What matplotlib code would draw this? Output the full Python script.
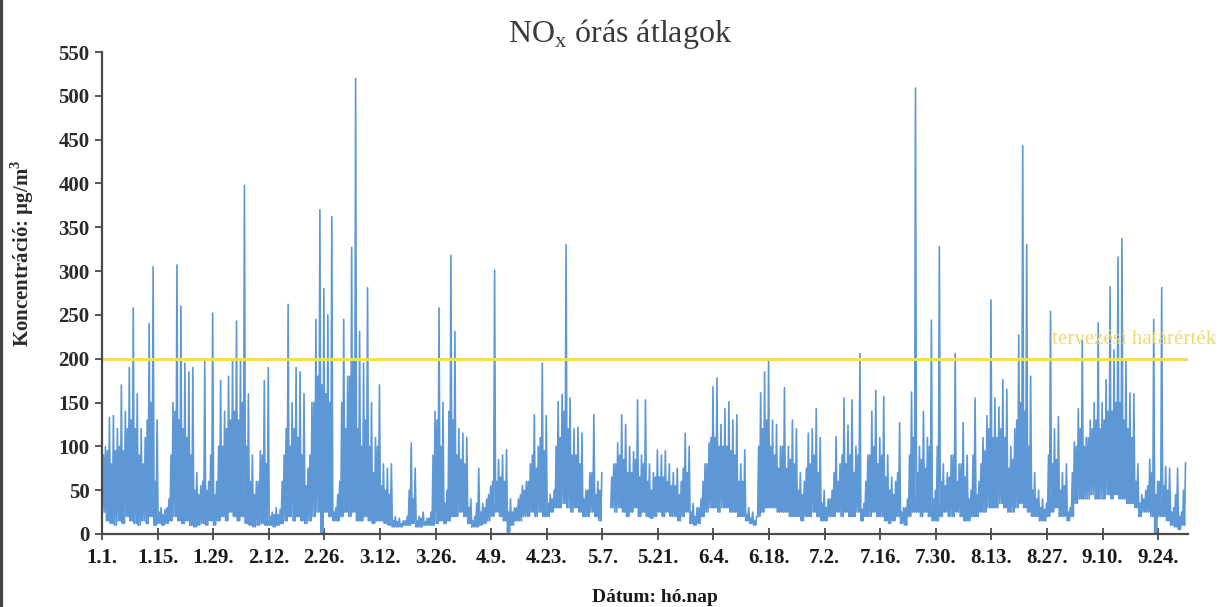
import numpy as np
import matplotlib.pyplot as plt
from matplotlib.lines import Line2D

plt.rcParams['font.family'] = ['Liberation Serif', 'DejaVu Serif']
plt.rcParams['mathtext.fontset'] = 'custom'
plt.rcParams['mathtext.rm'] = 'Liberation Serif'

# napi minimum / jellemzo csucs / maximum orás átlag (µg/m3), jan. 1. - szept. 30.
napi_max = [100, 133, 135, 120, 170, 140, 190, 258, 160, 120, 110, 240, 305, 130,
            30, 28, 40, 150, 307, 260, 195, 185, 190, 70, 55, 198, 60, 252,
            60, 175, 140, 180, 200, 243, 200, 398, 160, 90, 60, 95, 175, 190,
            25, 30, 28, 90, 262, 150, 190, 185, 160, 75, 150, 245, 370, 280,
            250, 362, 30, 60, 245, 180, 327, 520, 231, 195, 281, 150, 110, 170,
            80, 75, 80, 20, 18, 15, 20, 104, 75, 20, 25, 18, 25, 140,
            258, 150, 50, 318, 231, 120, 115, 110, 40, 20, 75, 35, 40, 55,
            301, 85, 90, 96, 40, 30, 40, 55, 60, 80, 136, 100, 195, 135,
            45, 50, 151, 159, 330, 155, 120, 122, 115, 50, 70, 136, 60, 70,
            np.nan, np.nan, 80, 104, 136, 125, 100, 94, 153, 90, 153, 80, 70, 96,
            90, 95, 80, 70, 75, 60, 115, 100, 35, 30, 40, 80, 104, 168,
            178, 125, 143, 151, 130, 136, 80, 96, 30, 25, 20, 161, 185, 197,
            130, 125, 100, 167, 100, 130, 120, 70, 60, 115, 120, 143, 110, 50,
            40, 50, 111, 80, 155, 124, 153, 100, 206, 35, 90, 140, 164, 110,
            157, 90, 65, 60, 127, 30, 40, 162, 509, 100, 140, 110, 244, 50,
            328, 80, 70, 90, 206, 80, 127, 90, 50, 155, 60, 110, 135, 267,
            155, 145, 176, 165, 100, 120, 227, 443, 330, 180, 70, 50, 40, 35,
            254, 120, 134, 70, 80, 30, 105, 143, 221, 110, 130, 150, 241, 150,
            176, 282, 210, 316, 337, 200, 161, 160, 80, 45, 50, 85, 245, 60,
            281, 77, 75, 30, 75, 25, 81]
napi_jell = [90, 95, 80, 95, 100, 95, 120, 130, 120, 90, 80, 130, 150, 60,
             25, 22, 30, 90, 140, 130, 120, 110, 90, 50, 45, 60, 50, 90,
             45, 100, 100, 120, 130, 140, 130, 150, 100, 60, 45, 60, 90, 80,
             20, 22, 22, 60, 120, 100, 120, 110, 90, 55, 90, 150, 180, 170,
             160, 150, 25, 45, 150, 120, 180, 200, 120, 100, 130, 100, 70, 100,
             55, 50, 45, 15, 14, 12, 15, 50, 40, 15, 18, 14, 18, 90,
             130, 100, 35, 140, 130, 90, 85, 80, 30, 15, 35, 25, 30, 45,
             60, 60, 65, 60, 25, 25, 30, 45, 50, 60, 90, 75, 110, 95,
             35, 40, 100, 110, 140, 120, 90, 90, 80, 40, 50, 70, 45, 50,
             np.nan, np.nan, 65, 80, 90, 85, 70, 70, 85, 65, 80, 60, 50, 65,
             65, 65, 60, 55, 55, 45, 75, 70, 25, 20, 30, 60, 80, 110,
             110, 100, 100, 100, 95, 90, 60, 60, 22, 18, 15, 100, 120, 130,
             100, 90, 75, 100, 75, 85, 80, 50, 45, 75, 80, 90, 70, 35,
             30, 40, 70, 60, 90, 80, 90, 70, 90, 28, 60, 90, 100, 80,
             90, 65, 50, 45, 70, 25, 30, 90, 110, 70, 85, 75, 100, 40,
             100, 60, 55, 65, 90, 60, 80, 65, 40, 90, 45, 80, 95, 120,
             110, 110, 120, 110, 75, 85, 130, 150, 140, 100, 50, 40, 30, 28,
             90, 80, 85, 50, 55, 25, 70, 100, 120, 100, 110, 120, 130, 120,
             130, 140, 140, 150, 150, 130, 120, 110, 60, 35, 40, 55, 70, 45,
             60, 55, 50, 25, 45, 20, 50]
napi_min = [25, 15, 12, 10, 15, 12, 20, 15, 12, 10, 15, 12, 20, 10,
            12, 10, 12, 15, 20, 15, 12, 15, 10, 8, 10, 12, 10, 15,
            10, 15, 20, 15, 25, 20, 15, 20, 12, 10, 8, 10, 12, 10,
            10, 8, 10, 12, 15, 20, 15, 20, 15, 12, 15, 20, 25, 2,
            25, 20, 15, 15, 20, 25, 20, 25, 15, 15, 20, 15, 12, 15,
            15, 12, 10, 8, 8, 8, 10, 10, 12, 8, 8, 10, 10, 10,
            12, 15, 12, 15, 20, 20, 25, 20, 12, 8, 8, 10, 12, 15,
            20, 25, 20, 15, 2, 10, 15, 15, 20, 20, 25, 20, 25, 20,
            20, 25, 30, 30, 35, 30, 25, 30, 25, 20, 20, 25, 20, 15,
            np.nan, np.nan, 30, 25, 30, 25, 20, 25, 30, 20, 25, 20, 18, 20,
            25, 20, 25, 20, 20, 15, 20, 25, 12, 10, 12, 20, 25, 30,
            30, 25, 30, 30, 25, 25, 20, 20, 15, 12, 10, 20, 25, 30,
            30, 30, 25, 25, 25, 20, 20, 20, 15, 20, 20, 25, 20, 15,
            15, 20, 20, 25, 20, 25, 20, 20, 25, 15, 20, 20, 25, 20,
            20, 15, 12, 15, 20, 12, 10, 20, 25, 25, 20, 25, 20, 15,
            15, 20, 25, 20, 20, 25, 20, 15, 15, 20, 20, 25, 25, 30,
            30, 30, 35, 30, 25, 25, 30, 35, 30, 25, 20, 20, 15, 15,
            20, 25, 30, 20, 20, 15, 20, 35, 40, 40, 40, 45, 40, 40,
            40, 45, 40, 45, 40, 40, 35, 35, 30, 20, 25, 25, 20, 0,
            20, 20, 15, 10, 8, 5, 10]
hatarertek = 200
tick_cimkek = ["1.1.", "1.15.", "1.29.", "2.12.", "2.26.", "3.12.", "3.26.", "4.9.",
               "4.23.", "5.7.", "5.21.", "6.4.", "6.18.", "7.2.", "7.16.", "7.30.",
               "8.13.", "8.27.", "9.10.", "9.24."]

# napon belul: min -> jellemzo -> min -> max
nap = np.arange(len(napi_max))
x = np.column_stack([nap + 0.125, nap + 0.375, nap + 0.625, nap + 0.875]).ravel()
y = np.column_stack([napi_min, napi_jell, napi_min, napi_max]).ravel()

fig = plt.figure(figsize=(12.26, 6.07), dpi=100)
ax = fig.add_axes([0.0832, 0.1203, 0.8858, 0.794])

ax.plot(x, y, color='#5E97D6', lw=1.2)
ax.axhline(hatarertek, color='#F6DD55', lw=2.2)
ax.text(239.3, 222, "tervezési határérték", color='#F0DA6A', fontsize=15,
        ha='left', va='center', clip_on=False)

ax.set_xlim(0, 273.5)
ax.set_ylim(0, 550)
ax.set_yticks(np.arange(0, 551, 50))
ax.set_xticks(np.arange(len(tick_cimkek)) * 14)
ax.set_xticklabels(tick_cimkek)

for s in ['top', 'right']:
    ax.spines[s].set_visible(False)
for s in ['left', 'bottom']:
    ax.spines[s].set_color('#4a4a4a')
    ax.spines[s].set_linewidth(1.6)
ax.tick_params(axis='y', direction='out', length=5, width=1.3, color='#4a4a4a',
               labelsize=15, labelcolor='#2a2a2a', pad=4)
ax.tick_params(axis='x', direction='inout', length=8, width=1.3, color='#4a4a4a',
               labelsize=15, labelcolor='#1a1a1a', pad=6)
for t in ax.get_xticklabels() + ax.get_yticklabels():
    t.set_fontweight('bold')

fig.text(22 / 1226, 1 - 253 / 607, "Koncentráció: µg/m$^\\mathregular{3}$", fontsize=15,
         fontweight='bold', color='#2a2a2a', rotation=90, ha='center', va='center')
fig.text(655 / 1226, 1 - 597 / 607, "Dátum: hó.nap", fontsize=14, fontweight='bold',
         color='#1a1a1a', ha='center', va='center')
fig.text(620 / 1226, 1 - 34 / 607, "NO$_\\mathregular{x}$ órás átlagok", fontsize=23,
         ha='center', va='center', color='#3a3a3a')

# bal oldali sötét szegély (szkennelt lap széle)
fig.add_artist(Line2D([0.001, 0.001], [0, 1], color='#444444', lw=3, transform=fig.transFigure))

fig.savefig('out.png', dpi=100)
